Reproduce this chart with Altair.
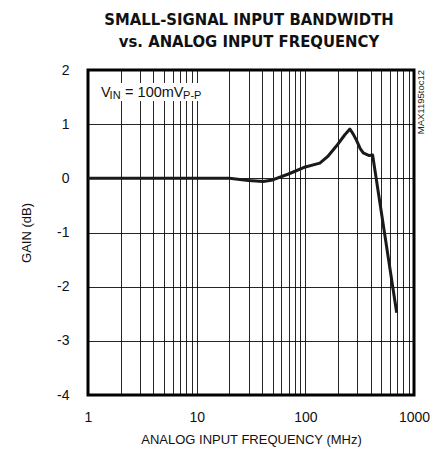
import altair as alt
import pandas as pd

# curve data (frequency in MHz, gain in dB)
freq = [1, 2, 5, 10, 15, 20, 25, 30, 41, 50, 70, 100, 136, 160, 194, 230, 257, 275, 296, 320, 341, 387, 416, 693]
gain = [0.0, 0.0, 0.0, 0.0, 0.0, 0.0, -0.02, -0.04, -0.06, -0.03, 0.08, 0.21, 0.28, 0.40, 0.60, 0.80, 0.91, 0.82, 0.70, 0.55, 0.47, 0.42, 0.43, -2.48]

x_grid = [m * d for d in (1, 10, 100) for m in range(1, 10)] + [1000]
x_labels = [1, 10, 100, 1000]
y_ticks = [-4, -3, -2, -1, 0, 1, 2]

title_lines = ["SMALL-SIGNAL INPUT BANDWIDTH", "vs. ANALOG INPUT FREQUENCY"]
x_title = "ANALOG INPUT FREQUENCY (MHz)"
y_title = "GAIN (dB)"
note_parts = ["V", "IN", "= 100mV", "P-P"]
side_label = "MAX1195toc12"

FONT = "Liberation Sans, Arial, sans-serif"
TFONT = "DejaVu Sans Condensed, sans-serif"

df = pd.DataFrame({"freq": freq, "gain": gain})

xs = alt.Scale(type="log", domain=[1, 1000], nice=False)
ys = alt.Scale(domain=[-4, 2], nice=False, zero=False)

label_expr = "indexof([" + ",".join(str(v) for v in x_labels) + "], datum.value) >= 0 ? '' + datum.value : ''"

line = alt.Chart(df).mark_line(color="#1a1a1a", strokeWidth=3, strokeJoin="round").encode(
    x=alt.X("freq:Q", scale=xs,
            axis=alt.Axis(values=x_grid, labelExpr=label_expr, ticks=False, domain=False,
                          grid=True, gridColor="#000", gridWidth=1, gridOpacity=0.85,
                          labelFont=FONT, labelFontSize=14, labelColor="#111",
                          labelPadding=15, labelFlush=False, labelOverlap=False,
                          title=x_title, titleFont=FONT, titleFontSize=13,
                          titleFontWeight="normal", titleColor="#111",
                          titleY=48, titleBaseline="alphabetic")),
    y=alt.Y("gain:Q", scale=ys,
            axis=alt.Axis(values=y_ticks, labelExpr="'' + datum.value", ticks=False, domain=False,
                          grid=True, gridColor="#000", gridWidth=1, gridOpacity=0.85,
                          labelFont=FONT, labelFontSize=14, labelColor="#111",
                          labelPadding=19, labelFlush=False,
                          title=y_title, titleFont=FONT, titleFontSize=13,
                          titleFontWeight="normal", titleColor="#111",
                          titleX=-62, titleBaseline="middle")),
)

box_df = pd.DataFrame({"x1": [1.28], "x2": [10.8], "y1": [1.43], "y2": [1.76]})
box = alt.Chart(box_df).mark_rect(color="white").encode(
    x=alt.X("x1:Q", scale=xs), x2="x2:Q",
    y=alt.Y("y1:Q", scale=ys), y2="y2:Q")

note_df = pd.DataFrame({"f": [1.32], "g": [1.51]})

def note(text, size, dx, dy):
    return alt.Chart(note_df).mark_text(
        text=text, font=FONT, fontSize=size, align="left", baseline="alphabetic",
        dx=dx, dy=dy, color="#111").encode(
        x=alt.X("f:Q", scale=xs), y=alt.Y("g:Q", scale=ys))

notes = (note(note_parts[0], 14.5, 0, 0) + note(note_parts[1], 11, 8.5, 2.5)
         + note(note_parts[2], 14.5, 24, 0) + note(note_parts[3], 11, 82, 2.5))

side_df = pd.DataFrame({"f": [1000], "g": [2]})
side = alt.Chart(side_df).mark_text(
    text=side_label, font=FONT, fontSize=9.5, angle=270, align="right",
    baseline="middle", dy=7, color="#222").encode(
    x=alt.X("f:Q", scale=xs), y=alt.Y("g:Q", scale=ys))

chart = alt.layer(box, notes, line, side).properties(
    width=326, height=325,
    title=alt.Title(title_lines, font=TFONT, fontSize=16.5, fontWeight="bold",
                    lineHeight=22, anchor="middle", baseline="alphabetic",
                    offset=0, dx=-2, color="#111"),
    padding={"left": 80, "top": 62, "right": 16, "bottom": 52},
    autosize=alt.AutoSizeParams(type="none"),
).configure_view(stroke="#000", strokeWidth=3)

chart.save("out.html", embed_options={"renderer": "svg", "actions": False})
